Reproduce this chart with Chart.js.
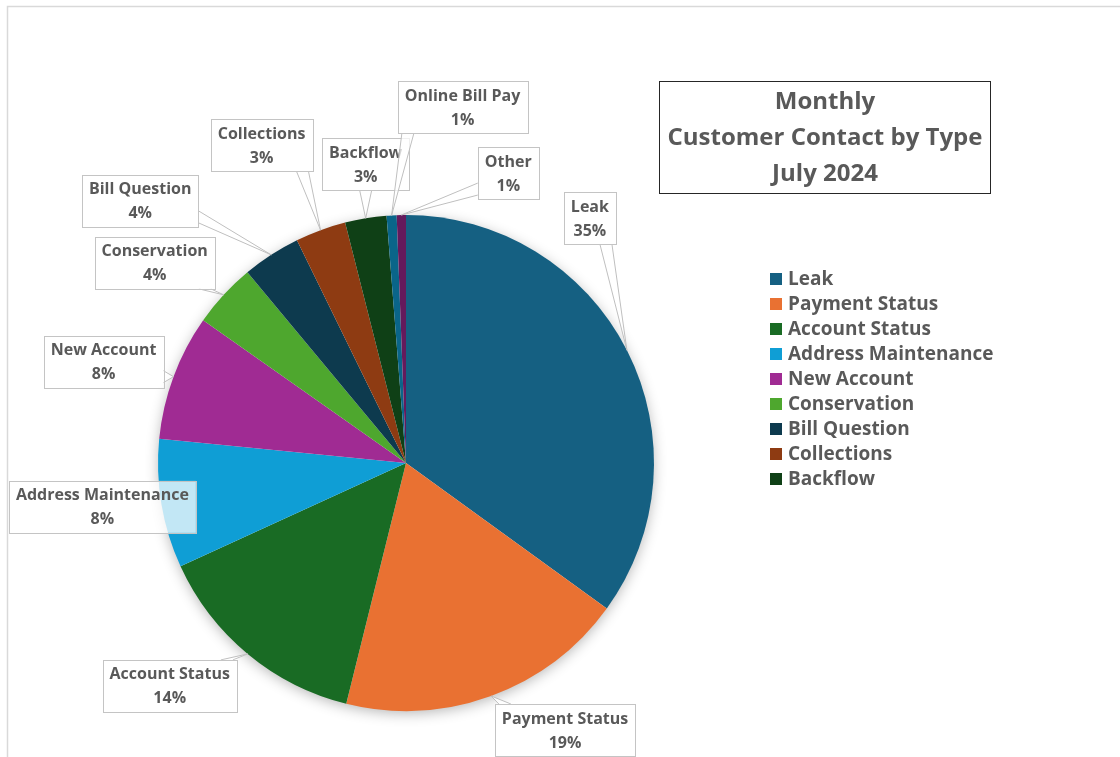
<!DOCTYPE html>
<html>
<head>
<meta charset="utf-8">
<script src="https://cdn.jsdelivr.net/npm/chart.js@4.4.1/dist/chart.umd.min.js"></script>
<style>
  html, body { margin: 0; padding: 0; background: #ffffff; }
  #wrap { width: 1120px; height: 757px; }
</style>
</head>
<body>
<div id="wrap"><canvas id="chartPastel" width="1120" height="757"></canvas></div>
<script>
/* ============ DATOS ============ */
const categorias = ["Leak", "Payment Status", "Account Status", "Address Maintenance", "New Account",
  "Conservation", "Bill Question", "Collections", "Backflow", "Online Bill Pay", "Other"];
const valores = [35.0, 18.9, 14.3, 8.4, 8.2, 4.2, 3.8, 3.3, 2.7, 0.65, 0.6];
const colores = ["#156082", "#E97132", "#196B24", "#0F9ED5", "#A02B93", "#4EA72E",
  "#0D3A4E", "#8E3B12", "#0F4016", "#0A6589", "#641A5C"];
const tituloLineas = ["Monthly", "Customer Contact by Type", "July 2024"];
const itemsLeyenda = 9; // la leyenda sólo muestra las primeras 9 categorías

// desplazamiento de cada etiqueta respecto al borde de su porción (dx, dy)
const posEtiquetas = [[-37, -132], [74, 34], [-78, 32], [-59, 3], [-70, -15], [-69, -32],
  [-131, -54], [-59, -85], [0, -54], [71, -108], [107, -42]];

const GRIS = "#595959";
const FUENTE = '"Open Sans", "Noto Sans", sans-serif';

/* ============ SOMBRA DEL PASTEL ============ */
const sombraPlugin = {
  id: "sombra",
  beforeDatasetsDraw(chart) {
    const arc = chart.getDatasetMeta(0).data[0];
    if (!arc) return;
    const ctx = chart.ctx;
    ctx.save();
    ctx.shadowColor = "rgba(0,0,0,0.30)";
    ctx.shadowBlur = 14;
    ctx.shadowOffsetY = 3;
    ctx.fillStyle = "#ffffff";
    ctx.beginPath();
    ctx.arc(arc.x, arc.y, arc.outerRadius - 1, 0, Math.PI * 2);
    ctx.fill();
    ctx.restore();
  }
};

/* ============ MARCO, TÍTULO, LEYENDA Y ETIQUETAS ============ */
const decoracionPlugin = {
  id: "decoracion",
  beforeDraw(chart) {
    const ctx = chart.ctx;
    ctx.save();
    ctx.strokeStyle = "#d9d9d9";
    ctx.lineWidth = 1.5;
    ctx.strokeRect(7.5, 6.5, 1200, 900);
    ctx.restore();
  },
  afterDraw(chart) {
    const ctx = chart.ctx;
    const meta = chart.getDatasetMeta(0);
    const total = valores.reduce((a, b) => a + b, 0);
    ctx.save();

    // Título en caja
    ctx.strokeStyle = "#262626";
    ctx.lineWidth = 1;
    ctx.strokeRect(659.5, 81.5, 331, 112);
    ctx.fillStyle = GRIS;
    ctx.font = "bold 24px " + FUENTE;
    ctx.textAlign = "center";
    ctx.textBaseline = "middle";
    tituloLineas.forEach((t, i) => ctx.fillText(t, 825, 102 + i * 36));

    // Leyenda
    ctx.font = "bold 19px " + FUENTE;
    ctx.textAlign = "left";
    for (let i = 0; i < itemsLeyenda; i++) {
      const y = 279 + i * 25;
      ctx.fillStyle = colores[i];
      ctx.fillRect(770, y - 6, 12, 12);
      ctx.fillStyle = GRIS;
      ctx.fillText(categorias[i], 788, y + 1);
    }

    // Etiquetas tipo globo
    ctx.font = "bold 16px " + FUENTE;
    meta.data.forEach((arc, i) => {
      const mid = (arc.startAngle + arc.endAngle) / 2;
      const ax = arc.x + arc.outerRadius * Math.cos(mid);
      const ay = arc.y + arc.outerRadius * Math.sin(mid);
      const cx = ax + posEtiquetas[i][0];
      const cy = ay + posEtiquetas[i][1];
      const pct = Math.round(valores[i] / total * 100) + "%";
      const w = Math.max(ctx.measureText(categorias[i]).width, ctx.measureText(pct).width) + 14;
      const h = 52;
      const bx = cx - w / 2, by = cy - h / 2;

      const dentro = ax > bx && ax < bx + w && ay > by && ay < by + h;
      if (!dentro) {
        const rx = (ax - cx) / (w / 2), ry = (ay - cy) / (h / 2);
        let p1, p2;
        if (Math.abs(rx) > Math.abs(ry)) {
          const ex = rx > 0 ? bx + w : bx;
          const yy = Math.min(Math.max(ay, by + 10), by + h - 10);
          p1 = [ex, yy - 6]; p2 = [ex, yy + 6];
        } else {
          const ey = ry > 0 ? by + h : by;
          const xx = Math.min(Math.max(ax, bx + 10), bx + w - 10);
          p1 = [xx - 6, ey]; p2 = [xx + 6, ey];
        }
        ctx.beginPath();
        ctx.moveTo(p1[0], p1[1]);
        ctx.lineTo(ax, ay);
        ctx.lineTo(p2[0], p2[1]);
        ctx.fillStyle = "rgba(255,255,255,0.75)";
        ctx.fill();
        ctx.strokeStyle = "#bfbfbf";
        ctx.lineWidth = 1;
        ctx.stroke();
      }
      ctx.fillStyle = "rgba(255,255,255,0.75)";
      ctx.fillRect(bx, by, w, h);
      ctx.strokeStyle = "#c4c4c4";
      ctx.lineWidth = 1;
      ctx.strokeRect(Math.round(bx) + 0.5, Math.round(by) + 0.5, Math.round(w), h);

      ctx.fillStyle = GRIS;
      ctx.textAlign = "center";
      ctx.fillText(categorias[i], cx, cy - 11);
      ctx.fillText(pct, cx, cy + 13);
    });
    ctx.restore();
  }
};

/* ============ GRÁFICA DE PASTEL ============ */
new Chart(document.getElementById("chartPastel"), {
  type: "pie",
  data: {
    labels: categorias,
    datasets: [{
      data: valores,
      backgroundColor: colores,
      borderWidth: 0
    }]
  },
  options: {
    responsive: false,
    animation: false,
    devicePixelRatio: 1,
    layout: { padding: { left: 158, right: 466, top: 215, bottom: 46 } },
    plugins: {
      legend: { display: false },
      tooltip: { enabled: false }
    }
  },
  plugins: [sombraPlugin, decoracionPlugin]
});
</script>
</body>
</html>
